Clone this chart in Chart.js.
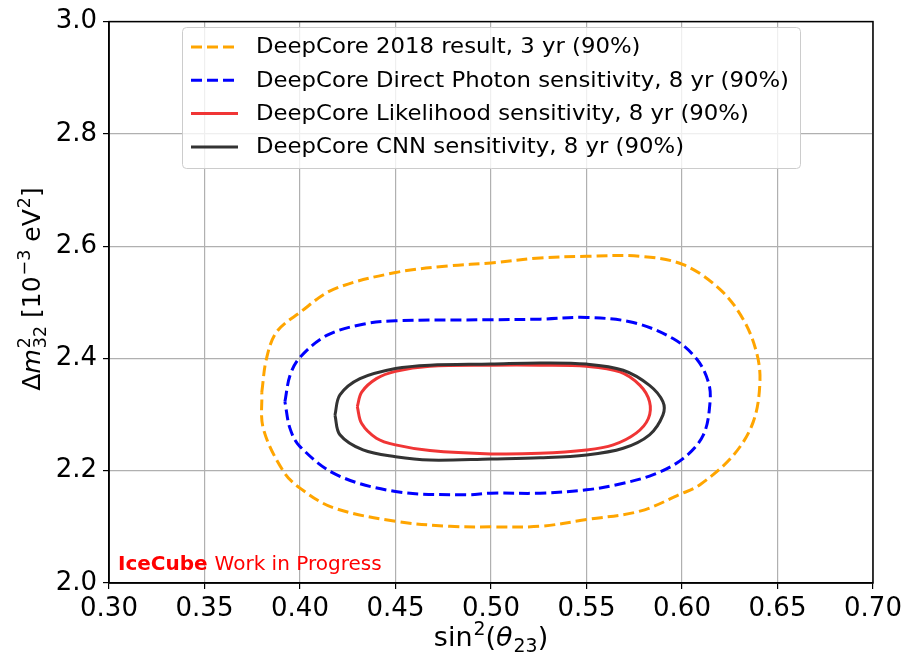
<!DOCTYPE html>
<html lang="en">
<head>
<meta charset="UTF-8">
<title>DeepCore | sensibilidade</title>
<script src="https://cdn.jsdelivr.net/npm/chart.js"></script>
<style>
    html, body { margin: 0; padding: 0; background: #ffffff; }
    .caixa { width: 916px; height: 656px; }
</style>
</head>
<body>
<div class="caixa">
    <canvas id="grafico" width="916" height="656"></canvas>
</div>

<script>
    // eixos
    const xTicks = [0.30, 0.35, 0.40, 0.45, 0.50, 0.55, 0.60, 0.65, 0.70]
    const yTicks = [2.0, 2.2, 2.4, 2.6, 2.8, 3.0]

    const nomes = [
        'DeepCore 2018 result, 3 yr (90%)',
        'DeepCore Direct Photon sensitivity, 8 yr (90%)',
        'DeepCore Likelihood sensitivity, 8 yr (90%)',
        'DeepCore CNN sensitivity, 8 yr (90%)'
    ]

    // contornos de 90% (sin^2 theta23, dm2_32)
    const result2018X = [0.380, 0.3824, 0.3877, 0.400, 0.4175, 0.450, 0.4785, 0.500, 0.5257, 0.550, 0.578, 0.6007, 0.6199, 0.632, 0.639, 0.6408, 0.6373, 0.627, 0.6094, 0.599, 0.578, 0.550, 0.5257, 0.500, 0.4785, 0.450, 0.4175, 0.400, 0.3913, 0.3808, 0.380]
    const result2018Y = [2.340, 2.399, 2.447, 2.482, 2.523, 2.553, 2.565, 2.570, 2.579, 2.582, 2.582, 2.567, 2.523, 2.470, 2.411, 2.358, 2.287, 2.228, 2.175, 2.158, 2.128, 2.113, 2.101, 2.100, 2.101, 2.110, 2.134, 2.169, 2.199, 2.275, 2.340]

    const photonX = [0.3921, 0.3948, 0.400, 0.414, 0.433, 0.450, 0.500, 0.5257, 0.550, 0.5745, 0.5955, 0.6077, 0.6138, 0.6147, 0.6112, 0.6007, 0.585, 0.5658, 0.550, 0.5257, 0.500, 0.487, 0.450, 0.419, 0.400, 0.3948, 0.3921]
    const photonY = [2.323, 2.370, 2.402, 2.441, 2.461, 2.467, 2.469, 2.470, 2.473, 2.464, 2.435, 2.399, 2.358, 2.323, 2.264, 2.222, 2.193, 2.175, 2.166, 2.160, 2.160, 2.157, 2.163, 2.193, 2.243, 2.275, 2.323]

    const likelihoodX = [0.430, 0.4323, 0.440, 0.450, 0.468, 0.500, 0.5257, 0.550, 0.5675, 0.578, 0.583, 0.5824, 0.576, 0.564, 0.550, 0.5257, 0.500, 0.468, 0.450, 0.440, 0.4323, 0.430]
    const likelihoodY = [2.314, 2.340, 2.364, 2.377, 2.386, 2.388, 2.388, 2.386, 2.376, 2.352, 2.323, 2.293, 2.267, 2.246, 2.237, 2.231, 2.230, 2.236, 2.246, 2.258, 2.284, 2.314]

    const cnnX = [0.4183, 0.4209, 0.4314, 0.450, 0.468, 0.500, 0.5257, 0.550, 0.5692, 0.583, 0.590, 0.590, 0.583, 0.5692, 0.550, 0.5257, 0.500, 0.468, 0.450, 0.433, 0.4209, 0.4183]
    const cnnY = [2.299, 2.335, 2.364, 2.382, 2.388, 2.390, 2.392, 2.390, 2.379, 2.352, 2.323, 2.299, 2.264, 2.240, 2.228, 2.223, 2.221, 2.219, 2.225, 2.237, 2.264, 2.299]

    const FONTE = '"DejaVu Sans", "Liberation Sans", sans-serif'

    function pontos(xs, ys) {
        let lista = []
        for (var i = 0; i < xs.length; i++) {
            lista.push({ x: xs[i], y: ys[i] })
        }
        return lista
    }

    function contorno(nome, xs, ys, cor, tracejado, ordem) {
        return {
            label: nome,
            data: pontos(xs, ys),
            borderColor: cor,
            borderWidth: 3,
            borderDash: tracejado ? [11, 5] : [],
            pointRadius: 0,
            showLine: true,
            fill: false,
            tension: 0.35,
            order: ordem
        }
    }

    // texto com sobrescrito / subscrito (estilo mathtext)
    function larguraRica(ctx, partes, tam) {
        let w = 0
        for (const p of partes) {
            if (p.t !== undefined) {
                ctx.font = (p.it ? 'italic ' : '') + tam + 'px ' + FONTE
                w += ctx.measureText(p.t).width
            } else {
                ctx.font = (tam * 0.7) + 'px ' + FONTE
                let a = p.sup ? ctx.measureText(p.sup).width : 0
                let b = p.sub ? ctx.measureText(p.sub).width : 0
                w += Math.max(a, b) + 1
            }
        }
        return w
    }

    function textoRico(ctx, partes, cx, base, tam) {
        let x = cx - larguraRica(ctx, partes, tam) / 2
        ctx.textAlign = 'left'
        ctx.textBaseline = 'alphabetic'
        for (const p of partes) {
            if (p.t !== undefined) {
                ctx.font = (p.it ? 'italic ' : '') + tam + 'px ' + FONTE
                ctx.fillText(p.t, x, base)
                x += ctx.measureText(p.t).width
            } else {
                ctx.font = (tam * 0.7) + 'px ' + FONTE
                let a = 0, b = 0
                if (p.sup) {
                    ctx.fillText(p.sup, x + 1, base - tam * 0.42)
                    a = ctx.measureText(p.sup).width
                }
                if (p.sub) {
                    ctx.fillText(p.sub, x + 1, base + tam * 0.22)
                    b = ctx.measureText(p.sub).width
                }
                x += Math.max(a, b) + 1
            }
        }
    }

    const extras = {
        id: 'extras',
        afterDatasetsDraw(chart) {
            const ctx = chart.ctx
            const area = chart.chartArea
            ctx.save()

            // moldura completa
            ctx.strokeStyle = '#000000'
            ctx.lineWidth = 1.5
            ctx.strokeRect(area.left, area.top, area.right - area.left, area.bottom - area.top)

            // legenda
            const lx = 182.5, ly = 27.5, lw = 618, lh = 141
            ctx.fillStyle = 'rgba(255, 255, 255, 0.8)'
            ctx.strokeStyle = '#cccccc'
            ctx.lineWidth = 1
            ctx.beginPath()
            ctx.roundRect(lx, ly, lw, lh, 4)
            ctx.fill()
            ctx.stroke()

            const ds = chart.data.datasets
            for (var i = 0; i < ds.length; i++) {
                const yy = 47 + i * 33.3
                ctx.strokeStyle = ds[i].borderColor
                ctx.lineWidth = 3
                ctx.setLineDash(ds[i].borderDash)
                ctx.beginPath()
                ctx.moveTo(191, yy)
                ctx.lineTo(238, yy)
                ctx.stroke()
                ctx.setLineDash([])

                ctx.save()
                ctx.translate(256, yy + 1)
                ctx.scale(1.085, 1)
                ctx.fillStyle = '#000000'
                ctx.font = '21px ' + FONTE
                ctx.textAlign = 'left'
                ctx.textBaseline = 'middle'
                ctx.fillText(ds[i].label, 0, 0)
                ctx.restore()
            }

            // marca IceCube
            ctx.textBaseline = 'alphabetic'
            ctx.textAlign = 'left'
            ctx.fillStyle = '#ff0000'
            ctx.font = 'bold 20px ' + FONTE
            ctx.fillText('IceCube', 118, 570)
            const wb = ctx.measureText('IceCube ').width
            ctx.font = '20px ' + FONTE
            ctx.fillText('Work in Progress', 118 + wb, 570)

            // titulos dos eixos
            ctx.fillStyle = '#000000'
            textoRico(ctx, [
                { t: 'sin' }, { sup: '2' }, { t: '(' }, { t: 'θ', it: true }, { sub: '23' }, { t: ')' }
            ], (area.left + area.right) / 2, 646, 27)

            ctx.translate(40, 289)
            ctx.rotate(-Math.PI / 2)
            textoRico(ctx, [
                { t: 'Δ' }, { t: 'm', it: true }, { sup: '2', sub: '32' },
                { t: ' [10' }, { sup: '−3' }, { t: ' eV' }, { sup: '2' }, { t: ']' }
            ], 0, 0, 25)

            ctx.restore()
        }
    }

    window.onload = () => {
        plotarGrafico()
    }

    function plotarGrafico() {
        const ctx = document.getElementById('grafico')

        new Chart(ctx, {
            type: 'scatter',
            data: {
                datasets: [
                    contorno(nomes[0], result2018X, result2018Y, '#ffa500', true, 4),
                    contorno(nomes[1], photonX, photonY, '#0000ff', true, 3),
                    contorno(nomes[2], likelihoodX, likelihoodY, '#f03535', false, 2),
                    contorno(nomes[3], cnnX, cnnY, '#333333', false, 1)
                ]
            },
            options: {
                responsive: false,
                devicePixelRatio: 1,
                animation: false,
                layout: { padding: { left: 0, top: 16, right: 43, bottom: 0 } },
                plugins: {
                    legend: { display: false },
                    tooltip: { enabled: false }
                },
                scales: {
                    x: {
                        type: 'linear',
                        min: 0.30,
                        max: 0.70,
                        afterBuildTicks: (s) => { s.ticks = xTicks.map(v => ({ value: v })) },
                        afterFit: (s) => { s.height = 73 },
                        ticks: {
                            color: '#000000',
                            font: { family: FONTE, size: 26 },
                            padding: 5,
                            maxRotation: 0,
                            callback: (v) => Number(v).toFixed(2)
                        },
                        grid: { color: '#b0b0b0', lineWidth: 1.2, tickColor: '#000000', tickLength: 6 },
                        border: { color: '#000000', width: 1.5 }
                    },
                    y: {
                        type: 'linear',
                        min: 2.0,
                        max: 3.0,
                        afterBuildTicks: (s) => { s.ticks = yTicks.map(v => ({ value: v })) },
                        afterFit: (s) => { s.width = 109 },
                        ticks: {
                            color: '#000000',
                            font: { family: FONTE, size: 26 },
                            padding: 6,
                            callback: (v) => Number(v).toFixed(1)
                        },
                        grid: { color: '#b0b0b0', lineWidth: 1.2, tickColor: '#000000', tickLength: 6 },
                        border: { color: '#000000', width: 1.5 }
                    }
                }
            },
            plugins: [extras]
        });
    }
</script>
</body>
</html>
